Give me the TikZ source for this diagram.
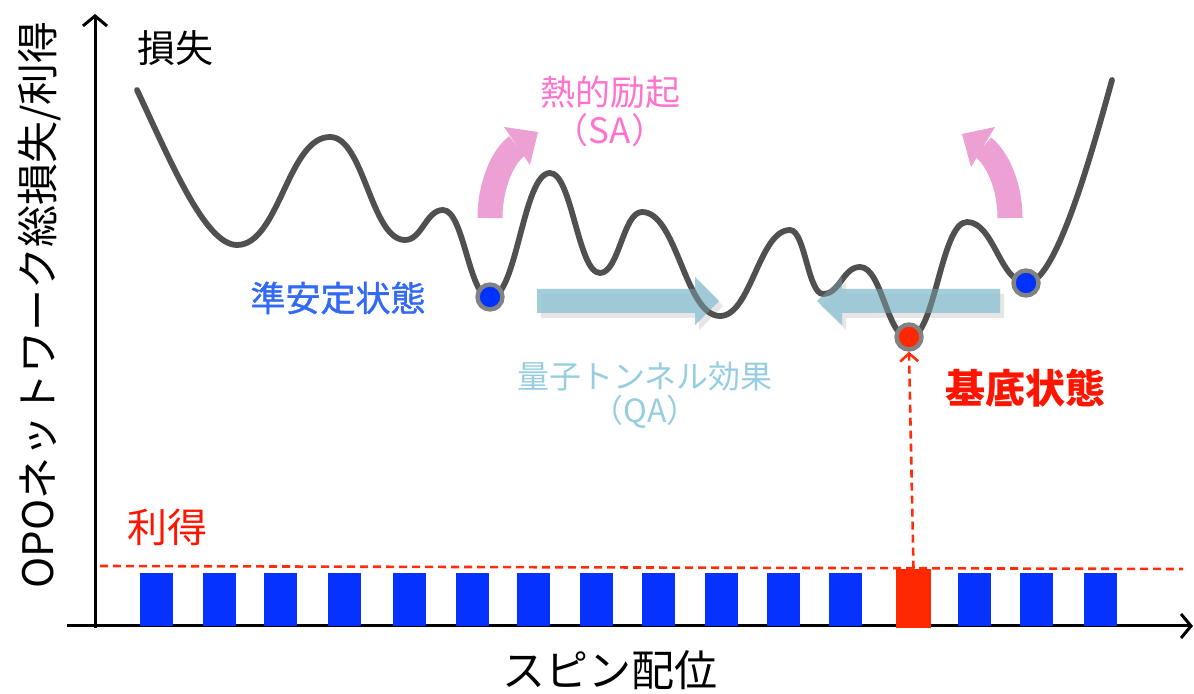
\documentclass[tikz,border=0pt]{standalone}
\usepackage{fontspec}
\newfontfamily\jp{Noto Sans CJK JP}
\newfontfamily\jpm{Noto Sans CJK JP}[FakeBold=1.2]
\usetikzlibrary{arrows.meta,shadows}
\definecolor{curvegray}{RGB}{80,80,80}
\definecolor{dotblue}{RGB}{0,50,255}
\definecolor{dotred}{RGB}{255,40,0}
\definecolor{dotrim}{RGB}{130,130,130}
\definecolor{barblue}{RGB}{5,50,255}
\definecolor{barred}{RGB}{255,40,0}
\definecolor{dashred}{RGB}{255,45,10}
\definecolor{pinkarrow}{RGB}{236,160,212}
\definecolor{pinktext}{RGB}{255,115,205}
\definecolor{qablue}{RGB}{150,198,212}
\definecolor{qatext}{RGB}{150,205,225}
\definecolor{metablue}{RGB}{50,105,245}
\definecolor{groundred}{RGB}{255,20,0}
\tikzset{
  curve/.style={draw=curvegray,line width=2.9pt,line join=round,line cap=round},
  axisline/.style={draw=black,line width=1.5pt,-{Straight Barb[length=5pt,width=12pt,line width=1.5pt]}},
  bar/.style={fill=barblue,minimum width=16.5pt,minimum height=26.5pt,inner sep=0pt},
  redbarst/.style={fill=barred,minimum width=17.5pt,minimum height=29.5pt,inner sep=0pt},
  dot/.style={circle,draw=dotrim,line width=2.2pt,minimum size=12.5pt,inner sep=0pt},
  reddash/.style={draw=dashred,line width=1.3pt,dash pattern=on 4pt off 2.5pt},
  qaarrow/.style={fill=qablue,fill opacity=0.8,drop shadow={opacity=0.2,shadow xshift=2pt,shadow yshift=-2.5pt}},
  pinkbody/.style={draw=pinkarrow,line width=12.5pt},
  lbl/.style={font=\jp,inner sep=0pt,align=center},
}
\begin{document}
\begin{tikzpicture}[x=0.5pt,y=-0.5pt]
\useasboundingbox (0,0) rectangle (1194,694);
% axes
\coordinate (origin) at (95,628);
\coordinate (ytop) at (95,14);
\coordinate (xleft) at (67,626);
\coordinate (xright) at (1193,626);
\draw[axisline] (origin) -- (ytop);
\draw[axisline] (xleft) -- (xright);
% gain dashed line
\coordinate (gainL) at (100,566);
\coordinate (gainR) at (1183,569);
\draw[reddash] (gainL) -- (gainR);
% bars
\foreach \x [count=\i] in {140,203,264,328,393,456,517,580,642,705,767,829,958,1020,1084}
  \node[bar] (bar\i) at (\x+16.5,599.5) {};
\node[redbarst] (redbar) at (913.5,598.5) {};
% QA arrows (behind curve)
\fill[qaarrow] (537,289) -- (695,289) -- (695,277) -- (719,301) -- (695,325) -- (695,313) -- (537,313) -- cycle;
\fill[qaarrow] (1000,289) -- (842,289) -- (842,277) -- (817,301) -- (842,325) -- (842,313) -- (1000,313) -- cycle;
% energy landscape
\draw[curve] (137,90) .. controls (170,160) and (205,245) .. (237,245)
  .. controls (279,245) and (288,137) .. (330,137)
  .. controls (364,137) and (371,240) .. (405,240)
  .. controls (422,240) and (426,210) .. (443,210)
  .. controls (464,210) and (469,298) .. (490,298)
  .. controls (517,298) and (523,173) .. (550,173)
  .. controls (572,173) and (578,273) .. (600,273)
  .. controls (619,273) and (623,212) .. (642,212)
  .. controls (677,212) and (685,316) .. (720,316)
  .. controls (751,316) and (759,230) .. (790,230)
  .. controls (805,230) and (808,294) .. (823,294)
  .. controls (840,294) and (843,267) .. (860,267)
  .. controls (882,267) and (887,338) .. (909,338)
  .. controls (935,338) and (941,222) .. (967,222)
  .. controls (994,222) and (1000,283) .. (1027,283)
  .. controls (1055,283) and (1090,160) .. (1112,80);
% translucent overlay of the QA arrows on the curve
\fill[qablue,fill opacity=0.35] (842,289) -- (842,277) -- (817,301) -- (842,325) -- (842,313) -- (1000,313) -- (1000,289) -- cycle;
\fill[qablue,fill opacity=0.35] (537,289) -- (695,289) -- (695,277) -- (719,301) -- (695,325) -- (695,313) -- (537,313) -- cycle;
% states
\node[dot,fill=dotblue] (meta1) at (490,297) {};
\node[dot,fill=dotblue] (meta2) at (1026,283) {};
\node[dot,fill=dotred] (reddot) at (909,337) {};
% ground-state connector
\draw[reddash,-{Straight Barb[length=4pt,width=9pt,line width=1.3pt]}] (redbar.north) -- (reddot.south);
% thermal excitation arrows
\draw[pinkbody] (490,218) .. controls (490,185) and (503,156) .. (517,146);
\fill[pinkarrow] (530,165) -- (538,132) -- (504,127) -- cycle;
\draw[pinkbody] (1010,218) .. controls (1010,185) and (997,158) .. (983,147);
\fill[pinkarrow] (995,127) -- (962,134) -- (971,167) -- cycle;
% labels
\node[lbl,font=\jp\fontsize{19pt}{22pt}\selectfont] (loss) at (175,48) {損失};
\node[lbl,text=pinktext,font=\jp\fontsize{17.5pt}{20pt}\selectfont] (sa1) at (610,92) {熱的励起};
\node[lbl,text=pinktext,font=\jp\fontsize{17.5pt}{20pt}\selectfont] (sa2) at (610,130) {（SA）};
\node[lbl,text=metablue,font=\jpm\fontsize{17.5pt}{20pt}\selectfont] (metalbl) at (338,298) {準安定状態};
\node[lbl,text=qatext,font=\jp\fontsize{16pt}{19pt}\selectfont] (qa1) at (645,376) {量子トンネル効果};
\node[lbl,text=qatext,font=\jp\fontsize{16pt}{19pt}\selectfont] (qa2) at (645,412) {（QA）};
\node[lbl,text=groundred,font=\jp\bfseries\fontsize{20pt}{23pt}\selectfont] (groundlbl) at (1025,388) {基底状態};
\node[lbl,text=groundred,font=\jp\fontsize{20pt}{23pt}\selectfont] (gainlbl) at (167,527) {利得};
\node[lbl,font=\jp\fontsize{21.5pt}{25pt}\selectfont] (xlbl) at (610,670) {スピン配位};
\node[lbl,rotate=90,font=\jp\fontsize{21pt}{24pt}\selectfont] (ylbl) at (40,305) {OPOネットワーク総損失/利得};
\end{tikzpicture}
\end{document}
